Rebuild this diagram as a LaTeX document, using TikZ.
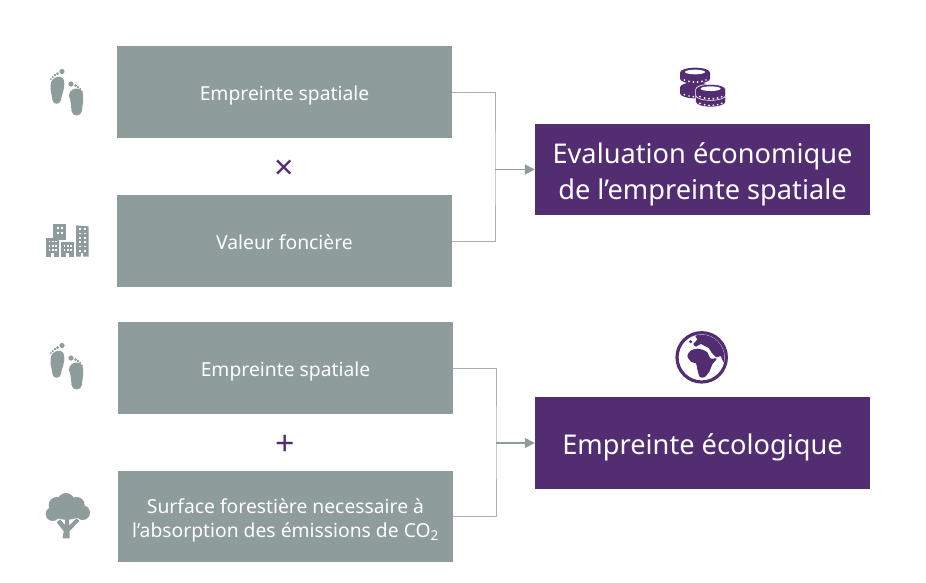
\documentclass[tikz,border=0pt]{standalone}
\usepackage{fontspec}
\usetikzlibrary{arrows.meta}
\setmainfont{Noto Sans}
\definecolor{grisbox}{HTML}{8E9C9B}
\definecolor{violet}{HTML}{522D72}
\newcommand{\basS}{\rule[-5pt]{0pt}{26.5pt}}
\newcommand{\basB}{\rule[-6.5pt]{0pt}{35.5pt}}
\tikzset{
    smallbox/.style={fill=grisbox, text=white, minimum width=335pt, minimum height=92pt, align=center, inner sep=0pt, font=\fontsize{19.3}{24}\selectfont},
    bigbox/.style={fill=violet, text=white, minimum width=335pt, minimum height=92pt, align=center, inner sep=0pt, font=\fontsize{27.2}{36}\selectfont},
    liaison/.style={draw=grisbox!80, line width=1pt},
    fleche/.style={draw=grisbox, line width=1.5pt, -{Triangle[length=10pt,width=10pt]}},
    signe/.style={text=violet, font=\fontsize{34}{34}\selectfont},
    pics/pieds/.style={code={
        \fill[grisbox] (50.5,85) .. controls (51,76) and (63,74) .. (64,81) .. controls (65.5,90) and (61,95) .. (61,100) .. controls (60,105) and (53,105) .. (52.5,100) .. controls (52,95) and (50,91) .. (50.5,85) -- cycle;
        \fill[grisbox] (69,96) .. controls (69,87) and (82,86) .. (83,94) .. controls (84,101) and (82,106) .. (82,111) .. controls (81,117) and (72,117) .. (71.5,111) .. controls (71,105) and (71,101) .. (69,96) -- cycle;
        \fill[grisbox] (62,71.5) circle (2.6);
        \fill[grisbox] (57.5,73.5) circle (1.5);
        \fill[grisbox] (55,75) circle (1.3);
        \fill[grisbox] (52.8,77) circle (1.2);
        \fill[grisbox] (51,79) circle (1);
        \fill[grisbox] (71,84) circle (2.6);
        \fill[grisbox] (75.5,85.5) circle (1.5);
        \fill[grisbox] (78,87) circle (1.3);
        \fill[grisbox] (80.2,89) circle (1.2);
        \fill[grisbox] (82,91.5) circle (1);
    }}
}
\begin{document}
\begin{tikzpicture}[x=1pt,y=-1pt]
    \useasboundingbox (0,0) rectangle (926,582);

    \node[smallbox] (spatialeA) at (284.5,92) {\basS Empreinte spatiale};
    \node[smallbox] (fonciere) at (284.5,241) {\basS Valeur foncière};
    \node[smallbox] (spatialeB) at (285.5,368) {\basS Empreinte spatiale};
    \node[smallbox, minimum height=91pt] (foret) at (285.5,516.5) {\rule{0pt}{23pt}Surface forestière necessaire à\\l’absorption des émissions de CO\textsubscript{2}};

    \node[bigbox, minimum height=91pt] (evaluation) at (702.5,169.5) {\rule{0pt}{30pt}Evaluation économique\\de l’empreinte spatiale};
    \node[bigbox] (ecologique) at (702.5,443) {\basB Empreinte écologique};

    \node[signe] (fois) at (284.5,170) {×};
    \node[signe] (plus) at (285.5,445) {+};

    \coordinate (jonctionA) at (495,169.5);
    \coordinate (jonctionB) at (496,443);

    \draw[liaison] (spatialeA.east) -| (jonctionA) |- (fonciere.east);
    \draw[fleche] (jonctionA) -- (evaluation.west);
    \draw[liaison] (spatialeB.east) -| (jonctionB) |- (foret.east);
    \draw[fleche] (jonctionB) -- (ecologique.west);

    % pieds
    \pic at (0,0) {pieds};
    \pic at (0,274) {pieds};

    % immeubles
    \begin{scope}[shift={(30,50)},scale=1/3]
        \fill[grisbox] (48,565) rectangle (87,620);
        \fill[grisbox] (70,522) rectangle (108,570);
        \fill[grisbox] (93,577) rectangle (131,620);
        \fill[grisbox] (138,526) -- (176,529) -- (176,620) -- (138,620) -- cycle;
        \foreach \px in {58,68,78} \foreach \py in {574,587,600} \fill[white] (\px-2.5,\py-2.5) rectangle +(5,5);
        \foreach \px in {83,95} \foreach \py in {534,548} \fill[white] (\px-2.5,\py-2.5) rectangle +(5,5);
        \foreach \px in {103,113,123} \foreach \py in {587,600} \fill[white] (\px-2.5,\py-2.5) rectangle +(5,5);
        \foreach \px in {150,164} \foreach \py in {537,550,563,576,589,602} \fill[white] (\px-2.5,\py-2.5) rectangle +(5,5);
        \fill[white] (64,610) rectangle (71,620);
        \fill[white] (109,610) rectangle (116,620);
        \fill[white] (153,610) rectangle (160,620);
    \end{scope}

    % arbre
    \begin{scope}[shift={(30,335)},scale=1/3]
        \fill[grisbox] (108,500) circle (26);
        \fill[grisbox] (80,510) circle (24);
        \fill[grisbox] (140,510) circle (24);
        \fill[grisbox] (68,537) circle (21);
        \fill[grisbox] (158,533) circle (22);
        \fill[grisbox] (110,528) ellipse (50 and 26);
        \fill[grisbox] (98,610) -- (101,588) -- (80,562) -- (90,553) -- (105,570) -- (106,545) -- (117,545) -- (117,572) -- (140,550) -- (148,558) -- (119,588) -- (119,610) -- cycle;
    \end{scope}

    % pieces
    \begin{scope}[shift={(660,55)},scale=1/3]
        \foreach \cx/\cy in {105/97,105/53} {
            \fill[violet] (\cx-45,\cy) -- (\cx-45,\cy+18) arc[start angle=180,end angle=0,x radius=45,y radius=15] -- (\cx+45,\cy) arc[start angle=0,end angle=-180,x radius=45,y radius=15] -- cycle;
            \foreach \dx/\dy in {-32/22,-18/26,-5/28,8/28,21/26,33/22}
                \fill[white] (\cx+\dx,\cy+\dy) circle (2.8);
        }
        \foreach \cx/\cy in {152/123,152/103} {
            \fill[violet, draw=white, line width=.6pt] (\cx-45,\cy) -- (\cx-45,\cy+18) arc[start angle=180,end angle=0,x radius=45,y radius=15] -- (\cx+45,\cy) arc[start angle=0,end angle=-180,x radius=45,y radius=15] -- cycle;
            \foreach \dx/\dy in {-32/22,-18/26,-5/28,8/28,21/26,33/22}
                \fill[white] (\cx+\dx,\cy+\dy) circle (2.8);
        }
        \foreach \cx/\cy in {105/51,152/101}
            \fill[white] (\cx,\cy) ellipse (30 and 7);
    \end{scope}

    % globe
    \begin{scope}[shift={(660,320)},scale=1/3]
        \draw[violet, line width=3.2pt] (125,112) circle (74);
        \clip (125,112) circle (68);
        \fill[violet] plot[smooth cycle, tension=.5] coordinates {(82,108) (92,92) (112,86) (130,90) (143,98) (151,115) (170,116) (157,133) (148,155) (133,172) (119,170) (112,148) (108,130) (94,126)};
        \fill[violet] plot[smooth cycle, tension=.4] coordinates {(100,72) (112,58) (106,48) (130,40) (165,38) (200,60) (210,110) (192,128) (182,108) (170,112) (155,98) (146,84) (134,78) (122,72) (108,80)};
        \fill[violet] (92,65) circle (5);
    \end{scope}
\end{tikzpicture}
\end{document}
